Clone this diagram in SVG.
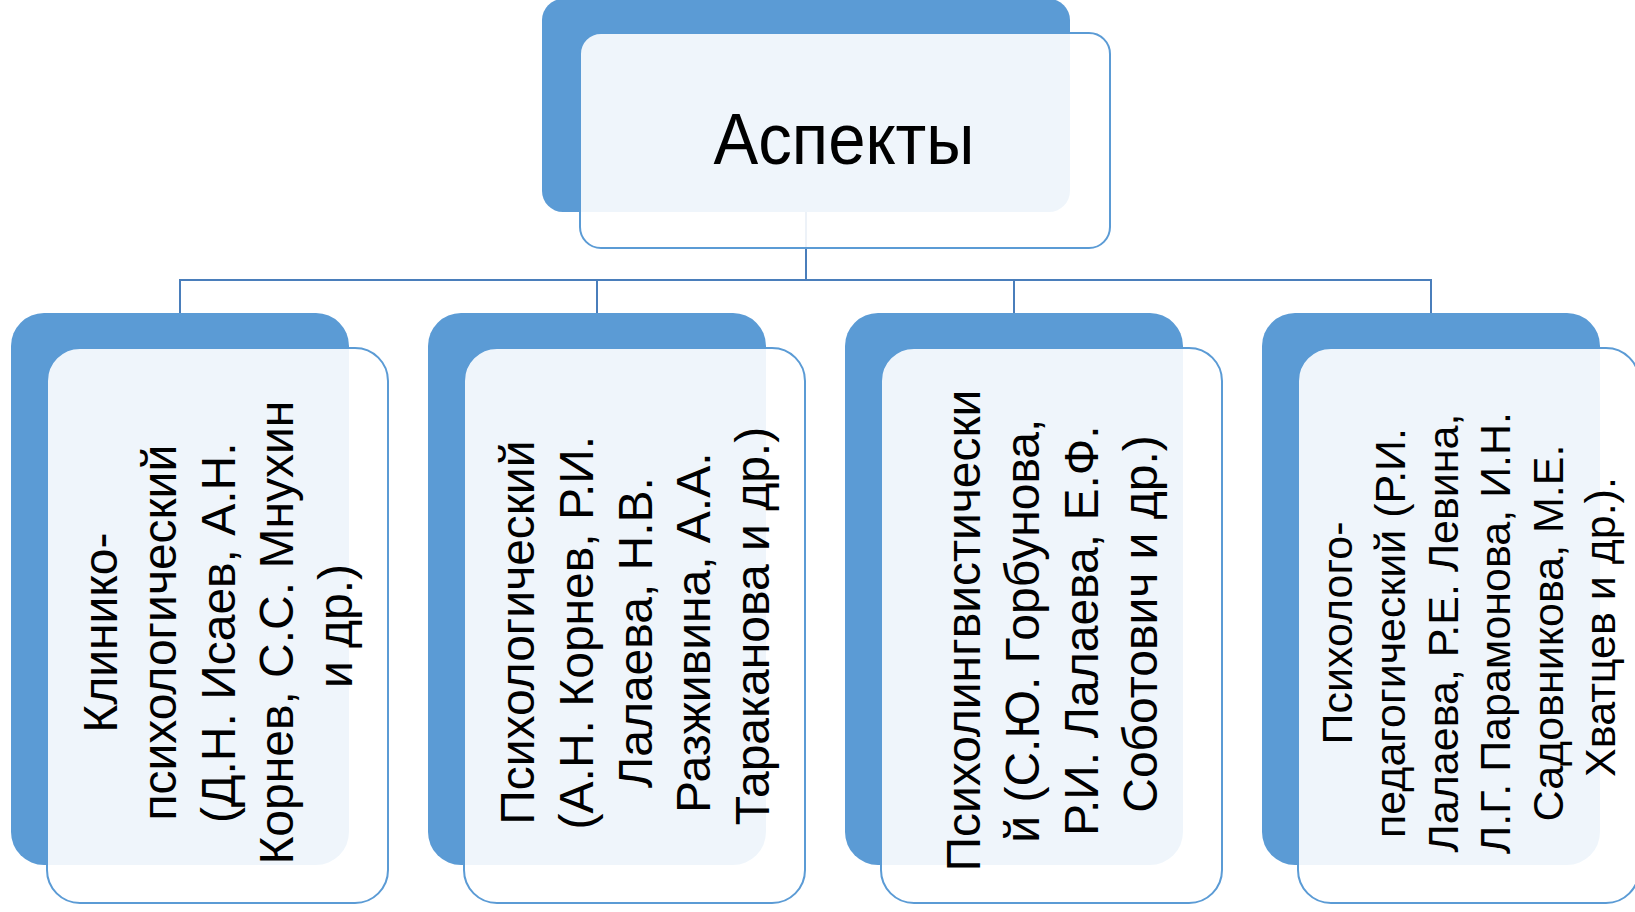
<svg xmlns="http://www.w3.org/2000/svg" width="1635" height="912" viewBox="0 0 1635 912">
  <style>
    .back { fill: #5B9BD5; }
    .front { fill: #FFFFFF; fill-opacity: 0.9; stroke: #5B9BD5; stroke-width: 2; }
    .conn { fill: none; stroke: #4A7EBB; stroke-width: 2; }
    .leaf { font-family: "Liberation Sans", Arial, sans-serif; font-size: 48px; fill: #000; text-anchor: middle; }
    .leafs { font-size: 43px; }
    .title { font-family: "Liberation Sans", Arial, sans-serif; font-size: 72px; fill: #000; text-anchor: middle; }
  </style>
  <rect width="1635" height="912" fill="#FFFFFF"/>

  <g id="back-shapes">
    <rect class="back" x="542" y="-1" width="528" height="213" rx="21" ry="21"/>
    <rect class="back" x="11" y="313" width="338" height="552" rx="33" ry="33"/>
    <rect class="back" x="428" y="313" width="338" height="552" rx="33" ry="33"/>
    <rect class="back" x="845" y="313" width="338" height="552" rx="33" ry="33"/>
    <rect class="back" x="1262" y="313" width="338" height="552" rx="33" ry="33"/>
  </g>

  <g id="connectors">
    <path class="conn" d="M806 212 V280"/>
    <path class="conn" d="M180 313 V280 H1431 V313"/>
    <path class="conn" d="M597 280 V313"/>
    <path class="conn" d="M1014 280 V313"/>
  </g>

  <g id="node-aspects">
    <rect class="front" x="580" y="33" width="530" height="215" rx="21" ry="21"/>
    <text class="title" x="844" y="164" textLength="261" lengthAdjust="spacingAndGlyphs">Аспекты</text>
  </g>

  <g id="node-clinical">
    <rect class="front" x="47" y="348" width="341" height="555" rx="33" ry="33"/>
    <text class="leaf" transform="translate(217.5 626) rotate(-90)">
      <tspan x="0" y="-100.5">Клинико-</tspan>
      <tspan x="0" y="-41.75">психологический</tspan>
      <tspan x="0" y="17">(Д.Н. Исаев, А.Н.</tspan>
      <tspan x="0" y="75.75">Корнев, С.С. Мнухин</tspan>
      <tspan x="0" y="134.5">и др.)</tspan>
    </text>
  </g>

  <g id="node-psychological">
    <rect class="front" x="464" y="348" width="341" height="555" rx="33" ry="33"/>
    <text class="leaf" transform="translate(634.5 626) rotate(-90)">
      <tspan x="0" y="-100.5">Психологический</tspan>
      <tspan x="0" y="-41.75">(А.Н. Корнев, Р.И.</tspan>
      <tspan x="0" y="17">Лалаева, Н.В.</tspan>
      <tspan x="0" y="75.75">Разживина, А.А.</tspan>
      <tspan x="0" y="134.5">Тараканова и др.)</tspan>
    </text>
  </g>

  <g id="node-psycholinguistic">
    <rect class="front" x="881" y="348" width="341" height="555" rx="33" ry="33"/>
    <text class="leaf" transform="translate(1051.5 624) rotate(-90)">
      <tspan x="0" y="-71.1">Психолингвистически</tspan>
      <tspan x="0" y="-12.4">й (С.Ю. Горбунова,</tspan>
      <tspan x="0" y="46.4">Р.И. Лалаева, Е.Ф.</tspan>
      <tspan x="0" y="105.1">Соботович и др.)</tspan>
    </text>
  </g>

  <g id="node-pedagogical">
    <rect class="front" x="1298" y="348" width="341" height="555" rx="33" ry="33"/>
    <text class="leaf leafs" transform="translate(1468.5 627) rotate(-90)">
      <tspan x="0" y="-116.1">Психолого-</tspan>
      <tspan x="0" y="-63.5">педагогический (Р.И.</tspan>
      <tspan x="0" y="-10.9">Лалаева, Р.Е. Левина,</tspan>
      <tspan x="0" y="41.7">Л.Г. Парамонова, И.Н.</tspan>
      <tspan x="0" y="94.3">Садовникова, М.Е.</tspan>
      <tspan x="0" y="146.9">Хватцев и др.).</tspan>
    </text>
  </g>
</svg>
